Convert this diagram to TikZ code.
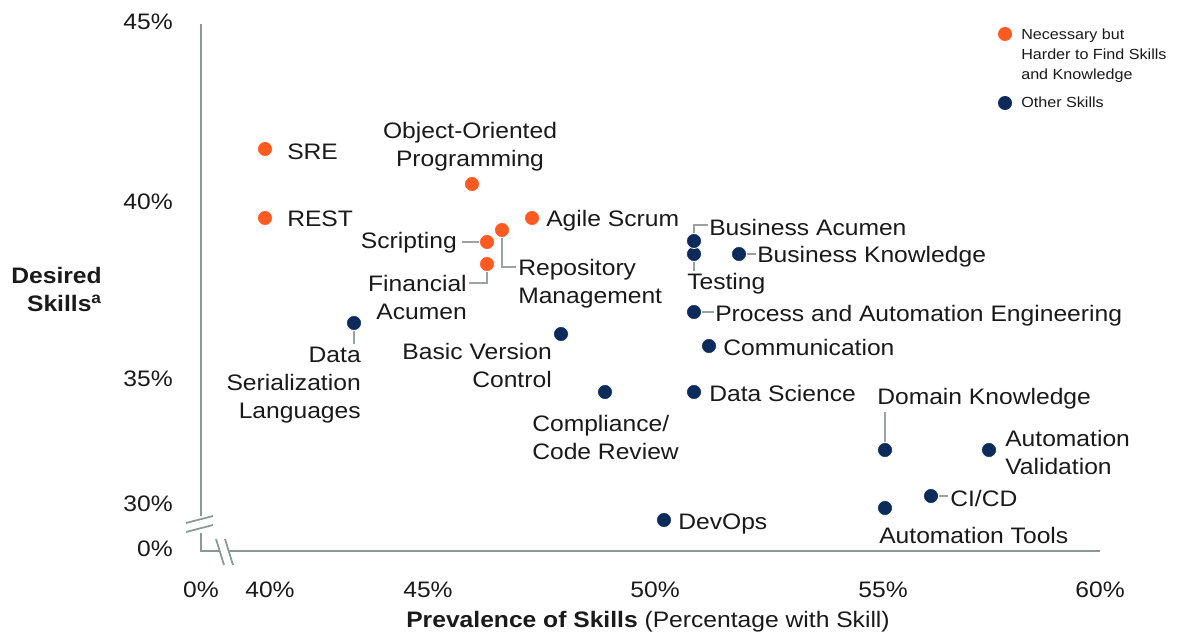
\documentclass[tikz,border=0pt]{standalone}
\usepackage{fontspec}
\setmainfont{Liberation Sans}[FakeStretch=1.1]
\definecolor{hardC}{HTML}{FF5A1F}
\definecolor{otherC}{HTML}{0C2B5A}
\definecolor{axisC}{HTML}{8C9893}
\definecolor{connC}{HTML}{9AA3A0}
\definecolor{txtC}{HTML}{1A1A1A}
\newcommand\lblfont{\fontsize{16.8pt}{21pt}\selectfont}
\newcommand\legfont{\fontsize{11pt}{15pt}\selectfont}
\tikzset{
  dotbase/.style={circle, inner sep=0pt, minimum size=11.25pt, draw=white, line width=0.6pt},
  hard/.style={dotbase, fill=hardC},
  other/.style={dotbase, fill=otherC},
  legdot/.style={circle, inner sep=0pt, minimum size=10.5pt},
  lbl/.style={font=\lblfont, inner sep=0pt, text=txtC},
  ticklbl/.style={font=\lblfont, inner sep=0pt, text=txtC},
  leglbl/.style={font=\legfont, inner sep=0pt, text=txtC, align=left},
  conn/.style={draw=connC, line width=0.9pt},
  axisline/.style={draw=axisC, line width=1.5pt},
  brk/.style={draw=axisC, line width=1.3pt},
}
\begin{document}
\begin{tikzpicture}[x=0.75pt, y=-0.75pt]
\useasboundingbox (0,0) rectangle (1188,642);
\fill[white] (0,0) rectangle (1188,642);

% axes
\draw[axisline] (201,24) -- (201,516);
\draw[axisline] (201,533) -- (201,551) -- (220,551);
\draw[axisline] (228,551) -- (1100,551);
\draw[brk] (186,523) -- (213,516);
\draw[brk] (186,532) -- (213,525);
\draw[brk] (216,539) -- (224,565);
\draw[brk] (225,539) -- (233,565);

% y ticks
\node[ticklbl, anchor=base east] (y45) at (173,30) {45\%};
\node[ticklbl, anchor=base east] (y40) at (173,209) {40\%};
\node[ticklbl, anchor=base east] (y35) at (173,386) {35\%};
\node[ticklbl, anchor=base east] (y30) at (173,511) {30\%};
\node[ticklbl, anchor=base east] (y0) at (173,556) {0\%};
% x ticks
\node[ticklbl, anchor=base] (x0) at (201,597) {0\%};
\node[ticklbl, anchor=base] (x40) at (270,597) {40\%};
\node[ticklbl, anchor=base] (x45) at (428,597) {45\%};
\node[ticklbl, anchor=base] (x50) at (655,597) {50\%};
\node[ticklbl, anchor=base] (x55) at (883,597) {55\%};
\node[ticklbl, anchor=base] (x60) at (1100,597) {60\%};

% axis titles
\node[lbl, anchor=north east, align=right, font=\lblfont\bfseries] (ytitle) at (102,267) {Desired\\Skills\textsuperscript{a}};
\node[lbl, anchor=base] (xtitle) at (648,627) {\textbf{Prevalence of Skills} (Percentage with Skill)};

% connected dots
\node[hard] (scr) at (487,242) {};
\node[hard] (repo) at (502,230) {};
\node[hard] (fin) at (487,264) {};
\node[other] (test) at (694,254) {};
\node[other] (busac) at (694,241) {};
\node[other] (busk) at (739,254) {};
\node[other] (proc) at (694,312) {};
\node[other] (dsl) at (354,323) {};
\node[other] (domain) at (885,450) {};
\node[other] (cicd) at (931,496) {};

\coordinate (scrEnd) at (462,242);
\coordinate (repEnd) at (516,267);
\coordinate (finEnd) at (469,283);
\coordinate (baEnd) at (708,225);
\coordinate (testEnd) at (694,271);
\coordinate (bkEnd) at (756,254);
\coordinate (procEnd) at (714,312);
\coordinate (dslEnd) at (354,344);
\coordinate (domEnd) at (885,412);
\coordinate (cicdEnd) at (948,496);
\draw[conn] (scr.west) -- (scrEnd);
\draw[conn] (repo.south) |- (repEnd);
\draw[conn] (fin.south) |- (finEnd);
\draw[conn] (busac.north) |- (baEnd);
\draw[conn] (test.south) -- (testEnd);
\draw[conn] (busk.east) -- (bkEnd);
\draw[conn] (proc.east) -- (procEnd);
\draw[conn] (dsl.south) -- (dslEnd);
\draw[conn] (domain.north) -- (domEnd);
\draw[conn] (cicd.east) -- (cicdEnd);

% other dots
\node[hard] (sre) at (265,149) {};
\node[hard] (rest) at (265,218) {};
\node[hard] (oop) at (472,184) {};
\node[hard] (agile) at (532,218) {};
\node[other] (comm) at (709,346) {};
\node[other] (datasci) at (694,392) {};
\node[other] (bvc) at (561,334) {};
\node[other] (comp) at (605,392) {};
\node[other] (devops) at (664,520) {};
\node[other] (autoval) at (989,450) {};
\node[other] (autotools) at (885,508) {};

% labels
\node[lbl, anchor=base west] (srel) at (287,159) {SRE};
\node[lbl, anchor=base west] (restl) at (287,226) {REST};
\node[lbl, anchor=north, align=center] (oopl) at (470,122) {Object-Oriented\\Programming};
\node[lbl, anchor=base west] (agilel) at (546,226) {Agile Scrum};
\node[lbl, anchor=base east] (scrl) at (457,248) {Scripting};
\node[lbl, anchor=north west, align=left] (repol) at (518,259) {Repository\\Management};
\node[lbl, anchor=north east, align=right] (finl) at (467,275) {Financial\\Acumen};
\node[lbl, anchor=base west] (busacl) at (709,235) {Business Acumen};
\node[lbl, anchor=base west] (testl) at (687,289) {Testing};
\node[lbl, anchor=base west] (buskl) at (757,262) {Business Knowledge};
\node[lbl, anchor=base west] (procl) at (715,321) {Process and Automation Engineering};
\node[lbl, anchor=base west] (comml) at (723,355) {Communication};
\node[lbl, anchor=base west] (datascil) at (709,401) {Data Science};
\node[lbl, anchor=north east, align=right] (bvcl) at (552,343) {Basic Version\\Control};
\node[lbl, anchor=north west, align=left] (compl) at (532,415) {Compliance/\\Code Review};
\node[lbl, anchor=north east, align=right] (dsll) at (361,347) {Data\\Serialization\\Languages};
\node[lbl, anchor=base west] (devopsl) at (678,529) {DevOps};
\node[lbl, anchor=base west] (domainl) at (877,404) {Domain Knowledge};
\node[lbl, anchor=north west, align=left] (autovall) at (1005,430) {Automation\\Validation};
\node[lbl, anchor=base west] (cicdl) at (950,506) {CI/CD};
\node[lbl, anchor=base west] (autotoolsl) at (879,543) {Automation Tools};

% legend
\node[legdot, fill=hardC] (leghard) at (1005,34) {};
\node[leglbl, anchor=north west] (leghardl) at (1021,29) {Necessary but\\Harder to Find Skills\\and Knowledge};
\node[legdot, fill=otherC] (legother) at (1005,103) {};
\node[leglbl, anchor=base west] (legotherl) at (1021,108) {Other Skills};
\end{tikzpicture}
\end{document}
